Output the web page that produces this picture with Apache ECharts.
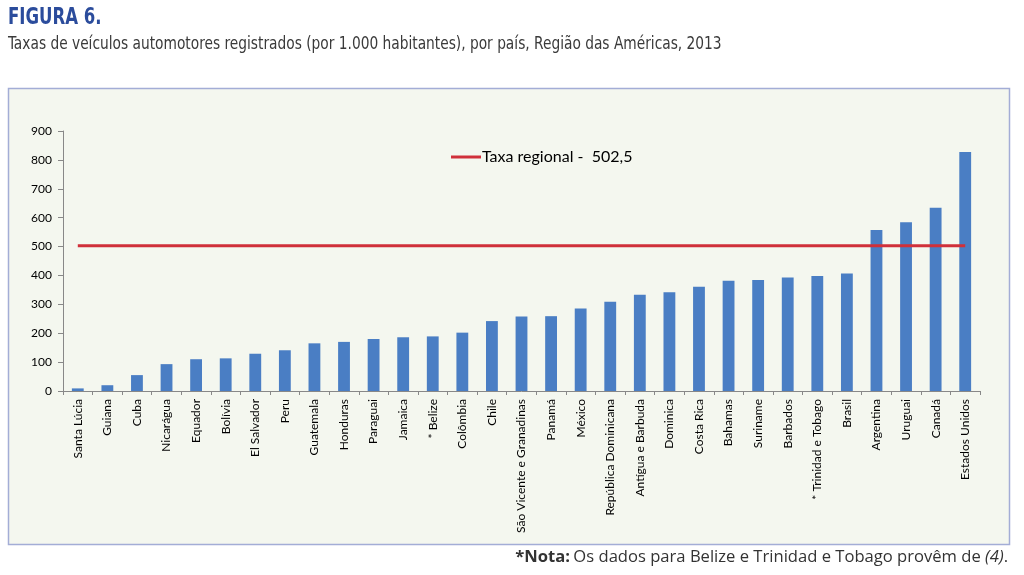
<!DOCTYPE html>
<html>
<head>
<meta charset="utf-8">
<script src="https://cdn.jsdelivr.net/npm/echarts@6/dist/echarts.min.js"></script>
<style>
html,body{margin:0;padding:0;background:#fff;}
#chart{width:1024px;height:575px;}
</style>
</head>
<body>
<div id="chart"></div>
<script>
const countries = ["Santa Lúcia","Guiana","Cuba","Nicarágua","Equador","Bolívia","El Salvador","Peru","Guatemala","Honduras","Paraguai","Jamaica","* Belize","Colômbia","Chile","São Vicente e Granadinas","Panamá","México","República Dominicana","Antígua e Barbuda","Dominica","Costa Rica","Bahamas","Suriname","Barbados","* Trinidad e Tobago","Brasil","Argentina","Uruguai","Canadá","Estados Unidos"];
const rates = [9,20,55,93,110,113,129,141,165,170,180,186,189,202,242,258,259,286,309,333,342,361,382,384,393,398,407,557,584,634,827];
const regionalRate = 502.5;
const regionalLabel = "Taxa regional -  502,5";
const yTicks = {min:0, max:900, interval:100};

const chart = echarts.init(document.getElementById('chart'), null, {renderer:'canvas'});
const option = {
  backgroundColor:'#ffffff',
  animation:false,
  graphic:[
    {type:'rect', z:-10, shape:{x:8.5,y:88.5,width:1001,height:456}, style:{fill:'#f4f7ef', stroke:'#a3add6', lineWidth:1.5}},
    {type:'text', x:8, y:7, scaleX:0.8, style:{text:'FIGURA 6.', fill:'#2b4c9c', font:"bold 23px 'DejaVu Sans Condensed',sans-serif"}},
    {type:'text', x:8, y:36, scaleX:0.9, style:{text:'Taxas de veículos automotores registrados (por 1.000 habitantes), por país, Região das Américas, 2013', fill:'#3a3a3a', font:"17px 'DejaVu Sans Condensed',sans-serif"}},
    {type:'text', right:16, top:549, style:{
      text:'{b|*Nota:} {n|Os dados para Belize e Trinidad e Tobago provêm de }{i|(4)}{n|.}',
      rich:{
        b:{fontWeight:'bold', fontSize:16.6, fontFamily:'Open Sans', fill:'#333'},
        n:{fontSize:16.6, fontFamily:'Open Sans', fill:'#333'},
        i:{fontStyle:'italic', fontSize:16.6, fontFamily:'Open Sans', fill:'#333'}
      }
    }}
  ],
  legend:{
    data:[{name:regionalLabel, icon:'rect'}],
    left:446, top:144,
    itemWidth:30, itemHeight:3, itemGap:2,
    textStyle:{fontFamily:'Lato', fontSize:16, color:'#000', padding:[0,0,0,-4]}
  },
  grid:{left:63, right:44, top:131, bottom:184, containLabel:false},
  xAxis:{
    type:'category', data:countries, boundaryGap:true,
    axisLine:{lineStyle:{color:'#888', width:1}},
    axisTick:{show:true, alignWithLabel:false, length:4, lineStyle:{color:'#888'}},
    axisLabel:{rotate:90, interval:0, fontFamily:'Lato', fontSize:12, color:'#000', margin:8}
  },
  yAxis:{
    type:'value', min:yTicks.min, max:yTicks.max, interval:yTicks.interval,
    axisLine:{show:true, lineStyle:{color:'#888', width:1}},
    axisTick:{show:true, length:5, lineStyle:{color:'#888'}},
    splitLine:{show:false},
    axisLabel:{fontFamily:'Lato', fontSize:12, color:'#000', margin:11}
  },
  series:[
    {type:'bar', name:'Taxa', data:rates, barWidth:'40%', itemStyle:{color:'#4a7ec4'}, z:2},
    {type:'line', name:regionalLabel, data:countries.map(()=>regionalRate), symbol:'none', lineStyle:{color:'#d0303a', width:3}, itemStyle:{color:'#d0303a'}, z:3}
  ]
};
chart.setOption(option);
</script>
</body>
</html>
